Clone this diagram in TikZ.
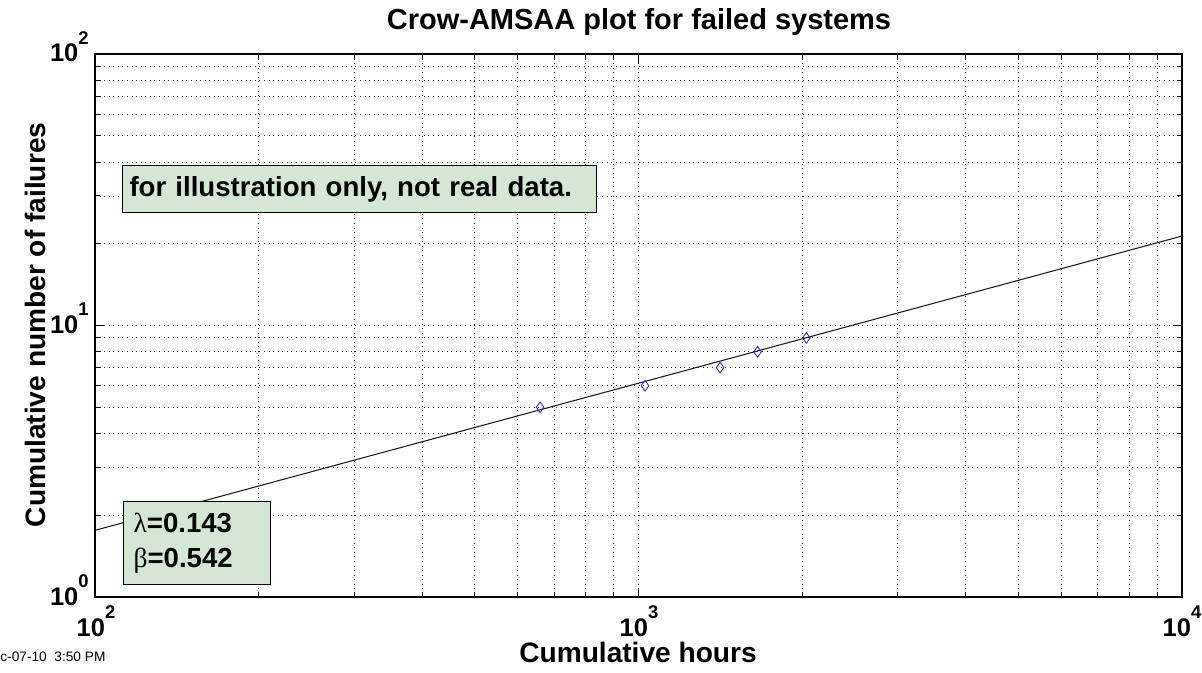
\documentclass[tikz,border=0pt]{standalone}
\usepackage{fontspec}
\setmainfont{Liberation Sans}
\newfontfamily\greekfont{Liberation Serif}
\usetikzlibrary{shapes.geometric}
\definecolor{boxgreen}{RGB}{212,230,212}
\definecolor{ptblue}{RGB}{40,40,190}
\newcommand{\dec}[1]{10\raisebox{10pt}{\fontsize{10.5}{10.5}\selectfont #1}}

\begin{document}
\begin{tikzpicture}[x=0.02cm,y=-0.02cm,
		gridline/.style={black!85,line width=0.5pt,dash pattern=on 0.5pt off 2.1pt},
		frame/.style={black,line width=0.6pt},
		ticklab/.style={font=\fontsize{14.5}{14.5}\selectfont\bfseries,inner sep=0pt},
		axlab/.style={font=\fontsize{16}{16}\selectfont\bfseries,inner sep=0pt},
		notebox/.style={draw,line width=0.6pt,fill=boxgreen,anchor=north west,font=\fontsize{15.7}{19.8}\selectfont\bfseries,align=left,inner ysep=0pt},
		datapt/.style={diamond,draw=ptblue,line width=0.5pt,inner sep=0pt,minimum width=0.16cm,minimum height=0.22cm}]
		\useasboundingbox (0,0) rectangle (1202,672);
		
		\foreach \e in {0,1} \foreach \m in {1,...,9} {
			\pgfmathsetmacro{\gx}{95+543.5*(\e+log10(\m))}
			\pgfmathsetmacro{\gy}{597-271.5*(\e+log10(\m))}
			\pgfmathsetmacro{\tl}{ifthenelse(\m==1,9,5)}
			\draw[gridline] (\gx,54) -- (\gx,597);
			\draw[gridline] (95,\gy) -- (1182,\gy);
			\draw[frame] (\gx,597) -- (\gx,597-\tl);
			\draw[frame] (\gx,54) -- (\gx,54+\tl);
			\draw[frame] (95,\gy) -- (95+\tl,\gy);
			\draw[frame] (1182,\gy) -- (1182-\tl,\gy);
		}
		\draw[frame] (95,54) rectangle (1182,597);
		
		\coordinate (fitA) at (95,{597-271.5*(log10(0.143)+0.542*2)});
		\coordinate (fitB) at (1182,{597-271.5*(log10(0.143)+0.542*4)});
		\draw[black!90,line width=0.6pt] (fitA) -- (fitB);
		
		\foreach \t/\n [count=\i] in {659/5,1028/6,1413/7,1656/8,2037/9}
		\node[datapt] (pt\i) at ({95+543.5*(log10(\t)-2)},{597-271.5*log10(\n)}) {};
		
		\node[ticklab,anchor=base] (xt2) at (96,636) {\dec{2}};
		\node[ticklab,anchor=base] (xt3) at (639,636) {\dec{3}};
		\node[ticklab,anchor=base] (xt4) at (1182,636) {\dec{4}};
		\node[ticklab,anchor=base east] (yt0) at (89,605) {\dec{0}};
		\node[ticklab,anchor=base east] (yt1) at (89,333.5) {\dec{1}};
		\node[ticklab,anchor=base east] (yt2) at (89,62) {\dec{2}};
		
		\node[axlab,anchor=base,font=\fontsize{16.5}{16.5}\selectfont\bfseries] (title) at (639,30) {Crow-AMSAA plot for failed systems};
		\node[axlab,anchor=base] (xlab) at (638,662) {Cumulative hours};
		\node[axlab,anchor=base,rotate=90] (ylab) at (45,325) {Cumulative number of failures};
		\node[anchor=base west,inner sep=0pt,font=\fontsize{7.8}{7.8}\selectfont] (stamp) at (0,661) {c-07-10~~3:50 PM};
		
		\node[notebox,inner xsep=0.14cm,text width=9.2cm,minimum height=0.94cm] (note) at (122,165) {for illustration only, not real data.};
		\node[notebox,inner xsep=0.2cm,text width=2.54cm,minimum height=1.66cm] (params) at (123,501) {{\greekfont\mdseries λ}=0.143\\{\greekfont\mdseries β}=0.542};
		
		\end{tikzpicture}
\end{document}
